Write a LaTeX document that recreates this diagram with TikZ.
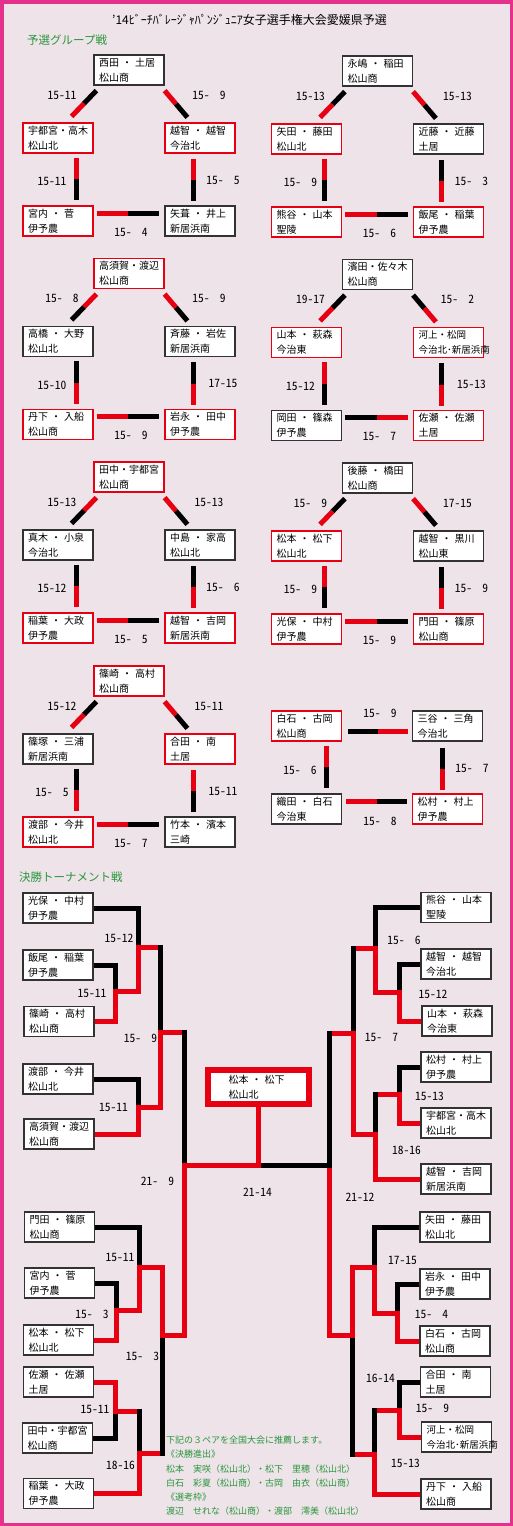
\documentclass[tikz,border=0pt]{standalone}
\usepackage{fontspec}
\setmainfont{Noto Sans CJK JP}
\newfontfamily\scorefont{Noto Sans CJK JP}[RawFeature=+hwid,WordSpace=1.8]
\usepackage{tikz}
\usetikzlibrary{calc,positioning}

\definecolor{bgpink}{RGB}{238,227,233}
\definecolor{rimpink}{RGB}{228,50,140}
\definecolor{hired}{RGB}{230,0,18}
\definecolor{boxgray}{RGB}{50,50,50}
\definecolor{leafgreen}{RGB}{40,150,60}

% full-width dot with small spaces, as in the two+two names
\newcommand{\nk}{\kern.3em・\kern.3em}

\tikzset{
  box/.style={draw=boxgray,fill=white,line width=1.2pt,text width=60pt,inner xsep=5pt,inner ysep=0pt,
    minimum height=30pt,align=left,font=\fontsize{10}{15}\selectfont},
  rbox/.style={box,draw=hired},
  narrow/.style={font=\fontsize{9.5}{15}\selectfont},
  finalbox/.style={draw=hired,line width=6pt,fill=white,minimum width=101pt,minimum height=34pt,
    text width=60pt,inner sep=0pt,align=left,font=\fontsize{10}{15}\selectfont},
  bar/.style={line width=5pt},
  blackon/.style={bar,shorten <=-2.5pt},
  redrun/.style={bar,hired},
  redstop/.style={bar,hired,shorten >=2.5pt},
  score/.style={font=\scorefont\fontsize{11.5}{11.5}\selectfont,inner sep=0pt},
  head/.style={font=\fontsize{11.5}{12}\selectfont,text=leafgreen,inner sep=0pt,anchor=west},
  notes/.style={font=\fontsize{9}{14.2}\selectfont,text=leafgreen,inner sep=0pt,anchor=north west,align=left},
}

% one link of a pool: ends #11 and #12, colours and score in #2, label shift #3
\newcommand{\duo}[3]{%
  \foreach \ca/\cb/\sc in {#2}{%
    \draw[bar,color=\ca] (#11) -- ($(#11)!.5!(#12)$) coordinate (#1m);
    \draw[bar,color=\cb] (#1m) -- (#12);
    \node[score] (#1s) at ($(#1m)+(#3)$) {\sc};}}

% the five links of a pool of boxes #1t, #1l, #1r, #1a, #1b
\newcommand{\pool}[6]{%
  \coordinate (#1tl1) at ($(#1t.south west)+(3,5)$);
  \coordinate (#1tl2) at ($(#1l.north east)+(-22,-6)$);
  \coordinate (#1tr1) at ($(#1t.south east)+(0,5)$);
  \coordinate (#1tr2) at ($(#1r.north west)+(23,-5)$);
  \coordinate (#1lv1) at ($(#1l.south)+(18,4)$);
  \coordinate (#1lv2) at ($(#1a.north)+(18,-5)$);
  \coordinate (#1rv1) at ($(#1r.south)+(-7,5)$);
  \coordinate (#1rv2) at ($(#1b.north)+(-7,-4)$);
  \coordinate (#1bh1) at ($(#1a.east)+(3,-8)$);
  \coordinate (#1bh2) at ($(#1b.west)+(-5,-8)$);
  \duo{#1tl}{#2}{-22,-8.5}
  \duo{#1tr}{#3}{33,-9}
  \duo{#1lv}{#4}{-24,2.5}
  \duo{#1rv}{#5}{30,0}
  \duo{#1bh}{#6}{3,19}}

\begin{document}
\begin{tikzpicture}[x=1pt,y=-1pt]
  \useasboundingbox (0,0) rectangle (513,1526);
  \fill[bgpink] (0,0) rectangle (513,1526);
  \draw[rimpink,line width=4pt] (1.5,1.5) rectangle (511.5,1524.5);

  \node[font=\fontsize{12}{12}\selectfont,inner sep=0pt] (title) at (249.5,20)
    {’14ﾋﾞｰﾁﾊﾞﾚｰｼﾞｬﾊﾟﾝｼﾞｭﾆｱ女子選手権大会愛媛県予選};
  \node[head] (pre) at (27,40) {予選グループ戦};

  % pools
  \begin{scope}
    \node[box]  (p1t) at (129,70) {西田\nk 土居\\松山商};
    \node[rbox] (p1l) at (58,138) {宇都宮・高木\\松山北};
    \node[rbox] (p1r) at (200,138) {越智\nk 越智\\今治北};
    \node[rbox] (p1a) at (58,221) {宮内\nk 菅\\伊予農};
    \node[box]  (p1b) at (200,221) {矢葺\nk 井上\\新居浜南};
  \end{scope}
  \pool{p1}{black/hired/15-11}{hired/black/15- 9}{hired/black/15-11}{hired/black/15- 5}{hired/black/15- 4}

  \begin{scope}[shift={(248.5,1)}]
    \node[box]  (p2t) at (129,70) {永嶋\nk 稲田\\松山商};
    \node[rbox] (p2l) at (58,138) {矢田\nk 藤田\\松山北};
    \node[box]  (p2r) at (200,138) {近藤\nk 近藤\\土居};
    \node[rbox] (p2a) at (58,221) {熊谷\nk 山本\\聖陵};
    \node[rbox] (p2b) at (200,221) {飯尾\nk 稲葉\\伊予農};
  \end{scope}
  \pool{p2}{black/hired/15-13}{hired/black/15-13}{hired/black/15- 9}{black/hired/15- 3}{hired/black/15- 6}

  \begin{scope}[shift={(0,203.5)}]
    \node[rbox] (p3t) at (129,70) {高須賀・渡辺\\松山商};
    \node[box]  (p3l) at (58,138) {高橋\nk 大野\\松山北};
    \node[box]  (p3r) at (200,138) {斉藤\nk 岩佐\\新居浜南};
    \node[rbox] (p3a) at (58,221) {丹下\nk 入船\\松山商};
    \node[rbox] (p3b) at (200,221) {岩永\nk 田中\\伊予農};
  \end{scope}
  \pool{p3}{hired/black/15- 8}{hired/black/15- 9}{black/hired/15-10}{black/hired/17-15}{hired/black/15- 9}

  \begin{scope}[shift={(248.5,204.5)}]
    \node[box]  (p4t) at (129,70) {濱田・佐々木\\松山商};
    \node[rbox] (p4l) at (58,138) {山本\nk 萩森\\今治東};
    \node[rbox,narrow] (p4r) at (200,138) {河上・松岡\\今治北･新居浜南};
    \node[box]  (p4a) at (58,221) {岡田\nk 篠森\\伊予農};
    \node[rbox] (p4b) at (200,221) {佐瀬\nk 佐瀬\\土居};
  \end{scope}
  \pool{p4}{black/hired/19-17}{black/hired/15- 2}{hired/black/15-12}{black/hired/15-13}{black/hired/15- 7}

  \begin{scope}[shift={(0,407)}]
    \node[rbox] (p5t) at (129,70) {田中・宇都宮\\松山商};
    \node[box]  (p5l) at (58,138) {真木\nk 小泉\\今治北};
    \node[box]  (p5r) at (200,138) {中島\nk 家高\\松山北};
    \node[rbox] (p5a) at (58,221) {稲葉\nk 大政\\伊予農};
    \node[rbox] (p5b) at (200,221) {越智\nk 吉岡\\新居浜南};
  \end{scope}
  \pool{p5}{hired/black/15-13}{hired/black/15-13}{black/hired/15-12}{black/hired/15- 6}{hired/black/15- 5}

  \begin{scope}[shift={(248.5,408)}]
    \node[box]  (p6t) at (129,70) {後藤\nk 橋田\\松山商};
    \node[rbox] (p6l) at (58,138) {松本\nk 松下\\松山北};
    \node[box]  (p6r) at (200,138) {越智\nk 黒川\\松山東};
    \node[rbox] (p6a) at (58,221) {光保\nk 中村\\伊予農};
    \node[rbox] (p6b) at (200,221) {門田\nk 篠原\\松山商};
  \end{scope}
  \pool{p6}{black/hired/15- 9}{hired/black/17-15}{hired/black/15- 9}{black/hired/15- 9}{hired/black/15- 9}

  \begin{scope}[shift={(0,611)}]
    \node[rbox] (p7t) at (129,70) {篠崎\nk 高村\\松山商};
    \node[box]  (p7l) at (58,138) {篠塚\nk 三浦\\新居浜南};
    \node[rbox] (p7r) at (200,138) {合田\nk 南\\土居};
    \node[rbox] (p7a) at (58,221) {渡部\nk 今井\\松山北};
    \node[box]  (p7b) at (200,221) {竹本\nk 濱本\\三崎};
  \end{scope}
  \pool{p7}{black/hired/15-12}{hired/black/15-11}{black/hired/15- 5}{hired/black/15-11}{hired/black/15- 7}

  % the pool of four
  \node[rbox] (p8l) at (306.5,726) {白石\nk 古岡\\松山商};
  \node[box]  (p8r) at (447.5,726) {三谷\nk 三角\\今治北};
  \node[box]  (p8a) at (306.5,809) {織田\nk 白石\\今治東};
  \node[rbox] (p8b) at (447.5,809) {松村\nk 村上\\伊予農};
  \coordinate (p8tp1) at ($(p8l.east)+(6,5)$);
  \coordinate (p8tp2) at ($(p8r.west)+(-4,5)$);
  \coordinate (p8lv1) at ($(p8l.south)+(19.5,4)$);
  \coordinate (p8lv2) at ($(p8a.north)+(19.5,-5)$);
  \coordinate (p8rv1) at ($(p8r.south)+(-5.5,6)$);
  \coordinate (p8rv2) at ($(p8b.north)+(-5.5,-3)$);
  \coordinate (p8bh1) at ($(p8a.east)+(4,-8)$);
  \coordinate (p8bh2) at ($(p8b.west)+(-5,-8)$);
  \duo{p8tp}{black/hired/15- 9}{2,-18}
  \duo{p8lv}{hired/black/15- 6}{-26,3}
  \duo{p8rv}{black/hired/15- 7}{30,-1}
  \duo{p8bh}{hired/black/15- 8}{3.5,20}

  % knockout
  \node[head] (ko) at (19,877) {決勝トーナメント戦};
  \node[box] (L1) at (58,908) {光保\nk 中村\\伊予農};
  \node[box] (L2) at (58,965) {飯尾\nk 稲葉\\伊予農};
  \node[box] (L3) at (59,1021.5) {篠崎\nk 高村\\松山商};
  \node[box] (L4) at (58,1079) {渡部\nk 今井\\松山北};
  \node[box] (L5) at (59,1134) {高須賀・渡辺\\松山商};
  \node[box] (L6) at (59.5,1227) {門田\nk 篠原\\松山商};
  \node[box] (L7) at (59.5,1283) {宮内\nk 菅\\伊予農};
  \node[box] (L8) at (58.5,1340) {松本\nk 松下\\松山北};
  \node[box] (L9) at (58.5,1382) {佐瀬\nk 佐瀬\\土居};
  \node[box] (L10) at (57.5,1438) {田中・宇都宮\\松山商};
  \node[box] (L11) at (58.5,1493.5) {稲葉\nk 大政\\伊予農};
  \node[box] (R1) at (456,907.5) {熊谷\nk 山本\\聖陵};
  \node[box] (R2) at (456,964) {越智\nk 越智\\今治北};
  \node[box] (R3) at (457,1021) {山本\nk 萩森\\今治東};
  \node[box] (R4) at (456,1067) {松村\nk 村上\\伊予農};
  \node[box] (R5) at (456,1123) {宇都宮・高木\\松山北};
  \node[box] (R6) at (456,1179) {越智\nk 吉岡\\新居浜南};
  \node[box] (R7) at (455,1227) {矢田\nk 藤田\\松山北};
  \node[box] (R8) at (455,1284) {岩永\nk 田中\\伊予農};
  \node[box] (R9) at (455,1341) {白石\nk 古岡\\松山商};
  \node[box] (R10) at (455.5,1382) {合田\nk 南\\土居};
  \node[box,narrow] (R11) at (456.5,1437) {河上・松岡\\今治北･新居浜南};
  \node[box] (R12) at (456,1494) {丹下\nk 入船\\松山商};
  \node[finalbox] (champ) at (258.5,1087) {松本\nk 松下\\松山北};

  \coordinate (m1) at (115,991);
  \coordinate (m2) at (138,947);
  \coordinate (m3) at (138,1107);
  \coordinate (m4) at (160,1032);
  \coordinate (m5) at (116.5,1310.5);
  \coordinate (m6) at (139.5,1267);
  \coordinate (m7) at (115,1411);
  \coordinate (m8) at (139.5,1453.5);
  \coordinate (m9) at (162,1335.5);
  \coordinate (m10) at (184.5,1165);
  \coordinate (n1) at (399.5,992.5);
  \coordinate (n2) at (375.5,948);
  \coordinate (n3) at (399.5,1094.5);
  \coordinate (n4) at (375.5,1134.5);
  \coordinate (n5) at (353.5,1033);
  \coordinate (n6) at (397.5,1313);
  \coordinate (n7) at (374.5,1267.5);
  \coordinate (n8) at (399.5,1410.5);
  \coordinate (n9) at (374.5,1454);
  \coordinate (n10) at (352.5,1335.5);
  \coordinate (n11) at (329.5,1165);
  \coordinate (fin) at (champ.south |- m10);

  % first round losers
  \foreach \t/\m in {L1/m2,L2/m1,L4/m3,L6/m6,L7/m5,L10/m7}
    \draw[bar] (\t.east) -| (\m);
  \foreach \t/\m in {R1/n2,R2/n1,R4/n3,R7/n7,R8/n6,R10/n8}
    \draw[bar] (\t.west) -| (\m);
  % beaten later on
  \draw[blackon] (m4 |- m2) -- (m4);
  \draw[blackon] (m10 |- m4) -- (m10);
  \draw[blackon] (m8 |- m7) -- (m8);
  \draw[blackon] (m9 |- m8) -- (m9);
  \draw[blackon] (n5 |- n2) -- (n5);
  \draw[blackon] (n4 |- n3) -- (n4);
  \draw[blackon] (n9 |- n8) -- (n9);
  \draw[blackon] (n10 |- n9) -- (n10);
  \draw[blackon] (n11 |- n5) |- (fin);
  % winning runs
  \draw[redstop] (L3.east) -| (m1) -| (m2) -- (m4 |- m2);
  \draw[redstop] (L5.east) -| (m3) -| (m4) -- (m10 |- m4);
  \draw[redstop] (L9.east) -| (m7) -- (m8 |- m7);
  \draw[redstop] (L11.east) -| (m8) -- (m9 |- m8);
  \draw[redstop] (R3.west) -| (n1) -| (n2) -- (n5 |- n2);
  \draw[redstop] (R5.west) -| (n3) -- (n4 |- n3);
  \draw[redstop] (R6.west) -| (n4) -| (n5) -- (n11 |- n5);
  \draw[redstop] (R11.west) -| (n8) -- (n9 |- n8);
  \draw[redstop] (R12.west) -| (n9) -- (n10 |- n9);
  \draw[redstop] (R9.west) -| (n6) -| (n7) -| (n10) -| (n11);
  \draw[redrun] (L8.east) -| (m5) -| (m6) -| (m9) -| (m10) -| (champ.south);

  % scores
  \foreach \x/\y/\s [count=\i] in {119/938/15-12,92/993/15-11,140.5/1038/15- 9,113.5/1107/15-11,
      157.5/1181/21- 9,120/1257/15-11,92/1314/15- 3,142.5/1356/15- 3,95/1409/15-11,120.5/1465/18-16}
    \node[score] (sl\i) at (\x,\y) {\s};
  \foreach \x/\y/\s [count=\i] in {404/940/15- 6,433/994/15-12,381.5/1037/15- 7,429.5/1096/15-13,
      406.5/1150/18-16,360/1197/21-12,402.5/1260/17-15,431.5/1314/15- 4,380.5/1378/16-14,
      432.5/1408/15- 9,405.5/1463/15-13}
    \node[score] (sr\i) at (\x,\y) {\s};
  \node[score] (sfin) at (257.5,1192) {21-14};

  \node[notes] (memo) at (166,1436) {下記の３ペアを全国大会に推薦します。\\《決勝進出》\\
    松本　実咲（松山北）・松下　里穂（松山北）\\白石　彩夏（松山商）・古岡　由衣（松山商）\\
    《選考枠》\\渡辺　せれな（松山商）・渡部　澪美（松山北）};
\end{tikzpicture}
\end{document}
